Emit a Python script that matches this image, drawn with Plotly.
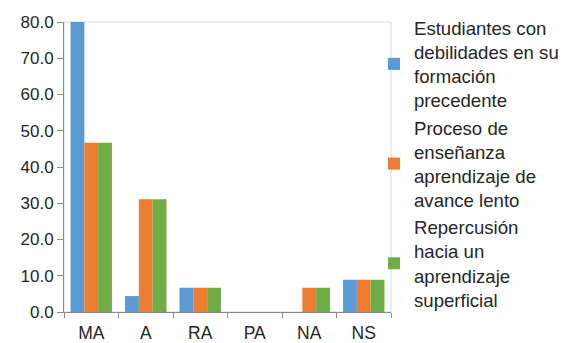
import plotly.graph_objects as go

categories = ["MA", "A", "RA", "PA", "NA", "NS"]
series_names = [
    "Estudiantes con<br>debilidades en su<br>formación<br>precedente",
    "Proceso de<br>enseñanza<br>aprendizaje de<br>avance lento",
    "Repercusión<br>hacia un<br>aprendizaje<br>superficial",
]
debilidades = [80.0, 4.4, 6.7, 0.0, 0.0, 8.9]
avance_lento = [46.7, 31.1, 6.7, 0.0, 6.7, 8.9]
superficial = [46.7, 31.1, 6.7, 0.0, 6.7, 8.9]
colors = ["#5b9bd5", "#ed7d31", "#70ad47"]

fig = go.Figure()
for name, vals, col in zip(series_names, [debilidades, avance_lento, superficial], colors):
    fig.add_trace(go.Bar(x=categories, y=vals, name=name,
                         marker=dict(color=col, line=dict(width=0))))

W, H = 576, 343
ml, mr, mt, mb = 64, 185, 22, 31
pw = W - ml - mr

fig.update_layout(
    width=W, height=H,
    margin=dict(l=ml, r=mr, t=mt, b=mb, pad=0, autoexpand=False),
    paper_bgcolor="white", plot_bgcolor="white",
    barmode="group", bargap=0.24, bargroupgap=0,
    font=dict(family="Liberation Sans, Arial, sans-serif", size=17, color="#262626"),
    showlegend=True,
    legend=dict(
        x=(394 - 20 - ml) / pw, xanchor="left",
        yref="container", y=1 - 9 / H, yanchor="top",
        font=dict(size=18.6, color="#262626"),
        bgcolor="rgba(0,0,0,0)", borderwidth=0,
        tracegroupgap=0, maxheight=H,
    ),
    shapes=[dict(type="rect", xref="paper", yref="paper", x0=0, x1=1, y0=0, y1=1,
                 line=dict(color="#d9d9d9", width=1), layer="below")],
)
fig.update_yaxes(range=[0, 80], dtick=10, tickformat=".1f", showgrid=False,
                 zeroline=False, showline=True, linecolor="#8c8c8c", linewidth=1,
                 ticks="outside", ticklen=6, tickcolor="#8c8c8c",
                 tickfont=dict(size=17))
fig.update_xaxes(type="category", tickson="boundaries", showgrid=False,
                 showline=True, linecolor="#8c8c8c", linewidth=1,
                 ticks="outside", ticklen=5, tickcolor="#8c8c8c",
                 ticklabelstandoff=5,
                 tickfont=dict(size=17.5))

fig.write_html("out.html", config={"displayModeBar": False},
               post_script="document.body.style.margin='0';document.body.style.overflow='hidden';")
